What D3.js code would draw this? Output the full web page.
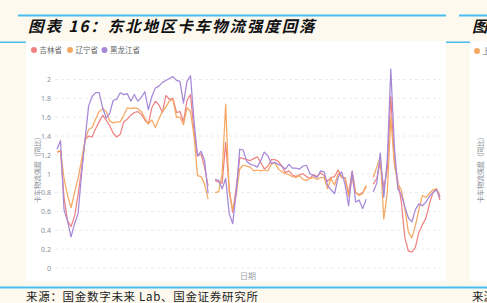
<!DOCTYPE html>
<html><head><meta charset="utf-8">
<script src="https://cdn.jsdelivr.net/npm/d3@7"></script>
<style>html,body{margin:0;padding:0;background:#fdf9ef;}svg{display:block;}</style>
</head><body>
<svg id="c" width="487" height="303"></svg>
<script>
const seriesNames = ["吉林省", "辽宁省", "黑龙江省"];
const seriesColors = ["#ef8282", "#f5a862", "#a688d8"];
const yTicks = [0, 0.2, 0.4, 0.6, 0.8, 1, 1.2, 1.4, 1.6, 1.8, 2];

const jilin = [
1.23,1.24,0.75,0.50,0.44,0.55,0.78,1.05,1.36,1.40,
1.39,1.48,1.55,1.62,1.57,1.51,1.43,1.39,1.42,1.55,
1.58,1.62,1.65,1.66,1.63,1.57,1.53,1.70,1.77,1.73,
1.65,1.83,1.79,1.80,1.65,1.66,1.55,1.78,1.84,1.45,
1.19,1.21,1.07,0.87,null,0.93,0.91,0.90,1.33,0.84,
0.59,0.85,1.17,1.16,1.15,1.14,1.16,1.18,1.12,1.05,
1.08,1.15,1.15,1.13,1.08,1.01,1.03,0.99,0.97,0.99,
1.00,0.97,0.95,0.99,0.97,1.01,0.98,0.92,0.96,0.97,
1.04,0.96,0.96,0.79,1.03,0.80,0.78,0.80,0.86,null,
0.89,0.95,1.12,0.85,1.05,1.82,1.15,0.92,0.70,0.32,
0.18,0.17,0.22,0.38,0.46,0.53,0.68,0.80,0.84,0.72];

const liaoning = [
1.23,1.25,0.95,0.77,0.64,0.80,0.95,1.15,1.36,1.47,
1.49,1.58,1.66,1.69,1.66,1.56,1.54,1.55,1.55,1.62,
1.70,1.69,1.70,1.69,1.66,1.59,1.53,1.57,1.49,1.58,
1.66,1.71,1.77,1.79,1.60,1.60,1.52,1.70,1.66,1.40,
0.98,0.97,0.89,0.73,null,0.80,0.81,1.00,1.74,0.80,
0.62,0.78,1.05,1.09,1.08,1.07,1.03,1.04,1.03,1.04,
1.03,1.10,1.12,1.05,1.02,1.00,0.99,0.97,0.96,0.98,
0.94,0.93,0.95,0.96,0.94,0.96,0.96,0.84,0.95,0.88,
1.00,0.98,0.94,0.76,0.95,0.80,0.77,0.79,0.88,null,
0.96,1.07,1.18,0.52,0.80,1.60,1.10,0.89,0.83,0.63,
0.38,0.32,0.45,0.62,0.77,0.75,0.79,0.83,0.84,0.77];

const heilongjiang = [
1.26,1.35,0.62,0.50,0.33,0.47,0.58,1.00,1.37,1.72,
1.82,1.86,1.86,1.70,1.59,1.64,1.78,1.79,1.86,1.84,
1.85,1.77,1.84,1.77,1.81,1.87,1.68,1.82,1.91,1.93,
1.97,1.99,2.01,2.03,1.99,1.98,1.75,1.98,2.04,1.55,
1.19,1.24,1.14,0.79,null,0.94,0.93,0.84,0.95,0.58,
0.47,0.80,1.26,1.25,1.13,1.10,1.09,1.07,1.14,1.23,
1.19,1.11,1.12,1.10,1.08,1.05,1.10,1.06,1.06,1.05,
1.08,1.09,1.00,0.98,0.96,1.03,1.02,0.88,0.83,0.79,
0.96,1.02,0.88,0.66,1.02,0.70,0.72,0.63,0.73,null,
0.81,0.90,1.22,0.75,1.15,2.11,1.30,0.84,0.78,0.65,
0.53,0.49,0.62,0.68,0.66,0.70,0.76,0.80,0.83,0.75];

const weeks = d3.range(jilin.length);
const allSeries = [jilin, liaoning, heilongjiang];

const svg = d3.select("#c");
const blue = "#45bdf0";

// frame lines
svg.append("rect").attr("x",18).attr("y",14.5).attr("width",428).attr("height",2).attr("fill",blue);
svg.append("rect").attr("x",459).attr("y",14.5).attr("width",28).attr("height",2).attr("fill",blue);
svg.append("rect").attr("x",0).attr("y",41.5).attr("width",487).attr("height",1.5).attr("fill",blue);
svg.append("rect").attr("x",0).attr("y",286.5).attr("width",487).attr("height",2).attr("fill",blue);

// title
svg.append("text").attr("x",28).attr("y",32)
  .attr("font-family","'Noto Sans CJK SC', sans-serif").attr("font-size",15.5).attr("font-weight","bold")
  .attr("font-style","italic").attr("letter-spacing","1.9px").attr("fill","#111")
  .text("图表 16：东北地区卡车物流强度回落");
svg.append("text").attr("x",472).attr("y",32)
  .attr("font-family","'Noto Sans CJK SC', sans-serif").attr("font-size",15.5).attr("font-weight","bold")
  .attr("font-style","italic").attr("fill","#111").text("图");

// white panels
svg.append("rect").attr("x",26).attr("y",41).attr("width",420).attr("height",240).attr("fill","#fff");
svg.append("rect").attr("x",470).attr("y",41).attr("width",17).attr("height",240).attr("fill","#fff");

// source
svg.append("text").attr("x",26).attr("y",301)
  .attr("font-family","'Noto Sans CJK SC', sans-serif").attr("font-size",11.5).attr("fill","#222")
  .attr("letter-spacing","0.7px")
  .text("来源：国金数字未来 Lab、国金证券研究所");
svg.append("text").attr("x",472).attr("y",301)
  .attr("font-family","'Noto Sans CJK SC', sans-serif").attr("font-size",11.5).attr("fill","#222")
  .text("来源");

// scales
const x = d3.scaleLinear().domain([0, weeks.length-1]).range([57, 440]);
const y = d3.scaleLinear().domain([0, 2]).range([268, 79.5]);

// grid
const grid = svg.append("g");
grid.selectAll("line").data(yTicks).join("line")
  .attr("x1",55).attr("x2",440).attr("y1",d=>y(d)).attr("y2",d=>y(d))
  .attr("stroke","#e6e6e6").attr("stroke-width",0.8).attr("stroke-dasharray","3,3");

const yAxis = d3.axisLeft(y).tickValues(yTicks).tickSize(0).tickPadding(0).tickFormat(d3.format("~g"));
const ga = svg.append("g").attr("transform","translate(51,0)").call(yAxis);
ga.select(".domain").remove();
ga.selectAll("text").attr("font-family","'Noto Sans', sans-serif").attr("font-size",7).attr("fill","#8a8f99");

// axis titles
svg.append("text").attr("transform","translate(40,168) rotate(-90)").attr("text-anchor","middle")
  .attr("font-family","'Noto Sans CJK SC', sans-serif").attr("font-size",7).attr("fill","#8a8f99")
  .text("卡车物流强度（同比）");
svg.append("text").attr("x",248).attr("y",279).attr("text-anchor","middle")
  .attr("font-family","'Noto Sans CJK SC', sans-serif").attr("font-size",8).attr("fill","#9aa0a8")
  .text("日期");

// lines
const line = d3.line().defined(d => d.v != null).x(d => x(d.i)).y(d => y(d.v));
allSeries.forEach((s, k) => {
  svg.append("path").datum(weeks.map(i => ({i, v: s[i]})))
    .attr("fill","none").attr("stroke",seriesColors[k]).attr("stroke-width",1.25)
    .attr("stroke-linejoin","round").attr("d", line);
});

// legend
const legX = [34, 70, 104.5];
const lg = svg.append("g");
seriesNames.forEach((n, k) => {
  lg.append("circle").attr("cx",legX[k]).attr("cy",50).attr("r",3).attr("fill",seriesColors[k]);
  lg.append("text").attr("x",legX[k]+5.5).attr("y",53).attr("font-family","'Noto Sans CJK SC', sans-serif")
    .attr("font-size",7.5).attr("fill","#666").text(n);
});

// partial right chart
svg.append("circle").attr("cx",477).attr("cy",51).attr("r",3).attr("fill",seriesColors[1]);
svg.append("text").attr("x",482.5).attr("y",54).attr("font-family","'Noto Sans CJK SC', sans-serif")
  .attr("font-size",7.5).attr("fill","#666").text("上海市");
svg.append("text").attr("transform","translate(483,168) rotate(-90)").attr("text-anchor","middle")
  .attr("font-family","'Noto Sans CJK SC', sans-serif").attr("font-size",7).attr("fill","#8a8f99")
  .text("卡车物流强度（同比）");
</script>
</body></html>
